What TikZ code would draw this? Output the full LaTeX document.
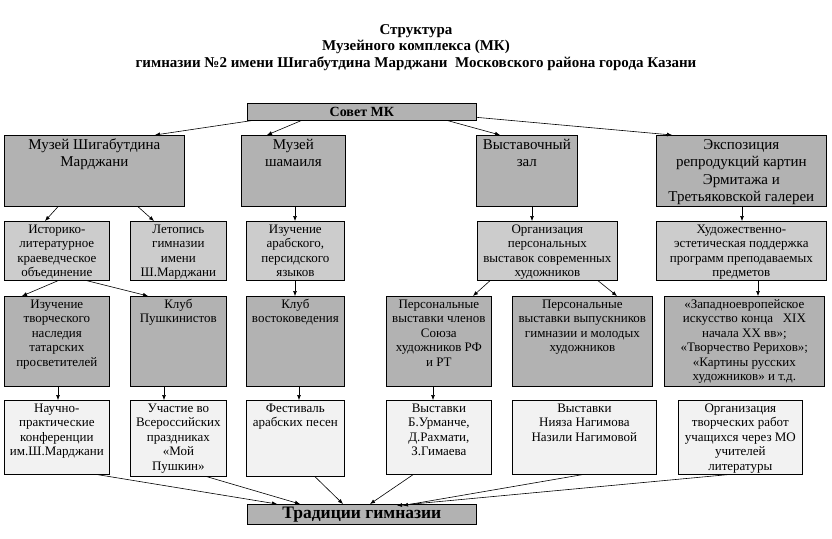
\documentclass[tikz,border=0pt]{standalone}
\usepackage{fontspec}
\setmainfont{Liberation Serif}
\usetikzlibrary{arrows.meta}
\definecolor{gdark}{RGB}{178,178,178}
\definecolor{glight}{RGB}{204,204,204}
\definecolor{gpale}{RGB}{242,242,242}
\newcommand{\btx}[3]{\vbox to #2pt{\hsize=#1pt\relax\centering\vskip1.5pt\strut#3\par\vfil}}
\tikzset{
  bx/.style={draw=black, line width=0.7pt, inner sep=0pt, anchor=north west},
  bdark/.style={bx, fill=gdark},
  blight/.style={bx, fill=glight},
  bpale/.style={bx, fill=gpale},
  fbig/.style={font=\fontsize{15}{17.5}\selectfont},
  fsmall/.style={font=\fontsize{13}{14.5}\selectfont},
  arr/.style={line width=0.6pt, -{Latex[length=5pt,width=4pt]}},
}
\begin{document}
\begin{tikzpicture}[x=1pt,y=-1pt]
\useasboundingbox[fill=white] (0,0) rectangle (832,538);
% title
\node[anchor=north, inner sep=0pt, align=center, font=\fontsize{15}{16.3}\selectfont\bfseries] (title) at (416,24.5)
  {Структура\\Музейного комплекса (МК)\\гимназии №2 имени Шигабутдина Марджани\ \ Московского района города Казани};
% top
\node[bdark, minimum width=229pt, minimum height=17pt, font=\fontsize{14}{16}\selectfont\bfseries] (sovet) at (247,103) {Совет МК};
% row 1
\node[bdark, fbig] (m1) at (4,135) {\btx{180}{71}{Музей Шигабутдина\\Марджани}};
\node[bdark, fbig] (m2) at (241,135) {\btx{104}{71}{Музей\\шамаиля}};
\node[bdark, fbig] (m3) at (476,135) {\btx{101}{71}{Выставочный\\зал}};
\node[bdark, fbig] (m4) at (656,135) {\btx{170}{71}{Экспозиция\\репродукций картин\\Эрмитажа и\\Третьяковской галереи}};
% row 2
\node[blight, fsmall] (r2a) at (4,221) {\btx{105}{59}{Историко-\\литературное\\краеведческое\\объединение}};
\node[blight, fsmall] (r2b) at (130,221) {\btx{96}{59}{Летопись\\гимназии\\имени\\Ш.Марджани}};
\node[blight, fsmall] (r2c) at (246,221) {\btx{98}{59}{Изучение\\арабского,\\персидского\\языков}};
\node[blight, fsmall] (r2d) at (477,221) {\btx{140}{59}{Организация\\персональных\\выставок современных\\художников}};
\node[blight, fsmall] (r2e) at (656,221) {\btx{170}{59}{Художественно-\\эстетическая поддержка\\программ преподаваемых\\предметов}};
% row 3
\node[bdark, fsmall] (r3a) at (4,296) {\btx{105}{90}{Изучение\\творческого\\наследия\\татарских\\просветителей}};
\node[bdark, fsmall] (r3b) at (130,296) {\btx{96}{90}{Клуб\\Пушкинистов}};
\node[bdark, fsmall] (r3c) at (246,296) {\btx{98}{90}{Клуб\\востоковедения}};
\node[bdark, fsmall] (r3d) at (386,296) {\btx{105}{90}{Персональные\\выставки членов\\Союза\\художников РФ\\и РТ}};
\node[bdark, fsmall] (r3e) at (512,296) {\btx{140}{90}{Персональные\\выставки выпускников\\гимназии и молодых\\художников}};
\node[bdark, fsmall] (r3f) at (664,296) {\btx{160}{90}{«Западноевропейское\\искусство конца\ \ \ XIX\\начала XX вв»;\\«Творчество Рерихов»;\\«Картины русских\\художников» и т.д.}};
% row 4
\node[bpale, fsmall] (r4a) at (4,400) {\btx{105}{74}{Научно-\\практические\\конференции\\им.Ш.Марджани}};
\node[bpale, fsmall] (r4b) at (130,400) {\btx{96}{76}{Участие во\\Всероссийских\\праздниках\\«Мой\\Пушкин»}};
\node[bpale, fsmall] (r4c) at (246,400) {\btx{98}{76}{Фестиваль\\арабских песен}};
\node[bpale, fsmall] (r4d) at (386,400) {\btx{105}{74}{Выставки\\Б.Урманче,\\Д.Рахмати,\\З.Гимаева}};
\node[bpale, fsmall] (r4e) at (512,400) {\btx{144}{74}{Выставки\\Нияза Нагимова\\Назили Нагимовой}};
\node[bpale, fsmall] (r4f) at (678,400) {\btx{124}{74}{Организация\\творческих работ\\учащихся через МО\\учителей\\литературы}};
% bottom
\node[bdark, minimum width=229pt, minimum height=20pt, font=\fontsize{17.5}{19}\selectfont\bfseries] (trad) at (247,504) {Традиции гимназии};
% connectors from Совет
\draw[arr] ([xshift=4pt]sovet.south west) -- ([xshift=151pt]m1.north west);
\draw[arr] ([xshift=54pt]sovet.south west) -- ([xshift=26pt]m2.north west);
\draw[arr] ([xshift=201pt]sovet.south west) -- ([xshift=24pt]m3.north west);
\draw[arr] ([yshift=-5.5pt]sovet.east) -- ([xshift=16pt]m4.north west);
% row1 -> row2
\draw[arr] ([xshift=54pt]m1.south west) -- ([xshift=41pt]r2a.north west);
\draw[arr] ([xshift=134pt]m1.south west) -- ([xshift=24pt]r2b.north west);
\draw[arr] ([xshift=54pt]m2.south west) -- ([xshift=49pt]r2c.north west);
\draw[arr] ([xshift=56pt]m3.south west) -- ([xshift=55pt]r2d.north west);
\draw[arr] ([xshift=86pt]m4.south west) -- ([xshift=86pt]r2e.north west);
% row2 -> row3
\draw[arr] ([xshift=54pt]r2a.south west) -- ([xshift=18pt]r3a.north west);
\draw[arr] ([xshift=83pt]r2a.south west) -- ([xshift=18pt]r3b.north west);
\draw[arr] ([xshift=49pt]r2c.south west) -- ([xshift=49pt]r3c.north west);
\draw[arr] ([xshift=13pt]r2d.south west) -- ([xshift=87pt]r3d.north west);
\draw[arr] ([xshift=121pt]r2d.south west) -- ([xshift=105pt]r3e.north west);
\draw[arr] ([xshift=102pt]r2e.south west) -- ([xshift=94pt]r3f.north west);
% row3 -> row4
\draw[arr] ([xshift=54pt]r3a.south west) -- ([xshift=54pt]r4a.north west);
\draw[arr] ([xshift=34pt]r3b.south west) -- ([xshift=34pt]r4b.north west);
\draw[arr] ([xshift=53pt]r3c.south west) -- ([xshift=53pt]r4c.north west);
\draw[arr] ([xshift=47pt]r3d.south west) -- ([xshift=47pt]r4d.north west);
% row4 -> Традиции
\draw[arr] ([xshift=94pt]r4a.south west) -- ([xshift=30pt]trad.north west);
\draw[arr] ([xshift=77pt]r4b.south west) -- ([xshift=53pt]trad.north west);
\draw[arr] ([xshift=69pt]r4c.south west) -- ([xshift=96pt]trad.north west);
\draw[arr] ([xshift=27pt]r4d.south west) -- ([xshift=123pt]trad.north west);
\draw[arr] ([xshift=70pt]r4e.south west) -- ([xshift=156pt,yshift=-1.5pt]trad.north west);
\draw[arr] ([xshift=49pt]r4f.south west) -- ([xshift=150pt,yshift=-1.5pt]trad.north west);
\end{tikzpicture}
\end{document}
